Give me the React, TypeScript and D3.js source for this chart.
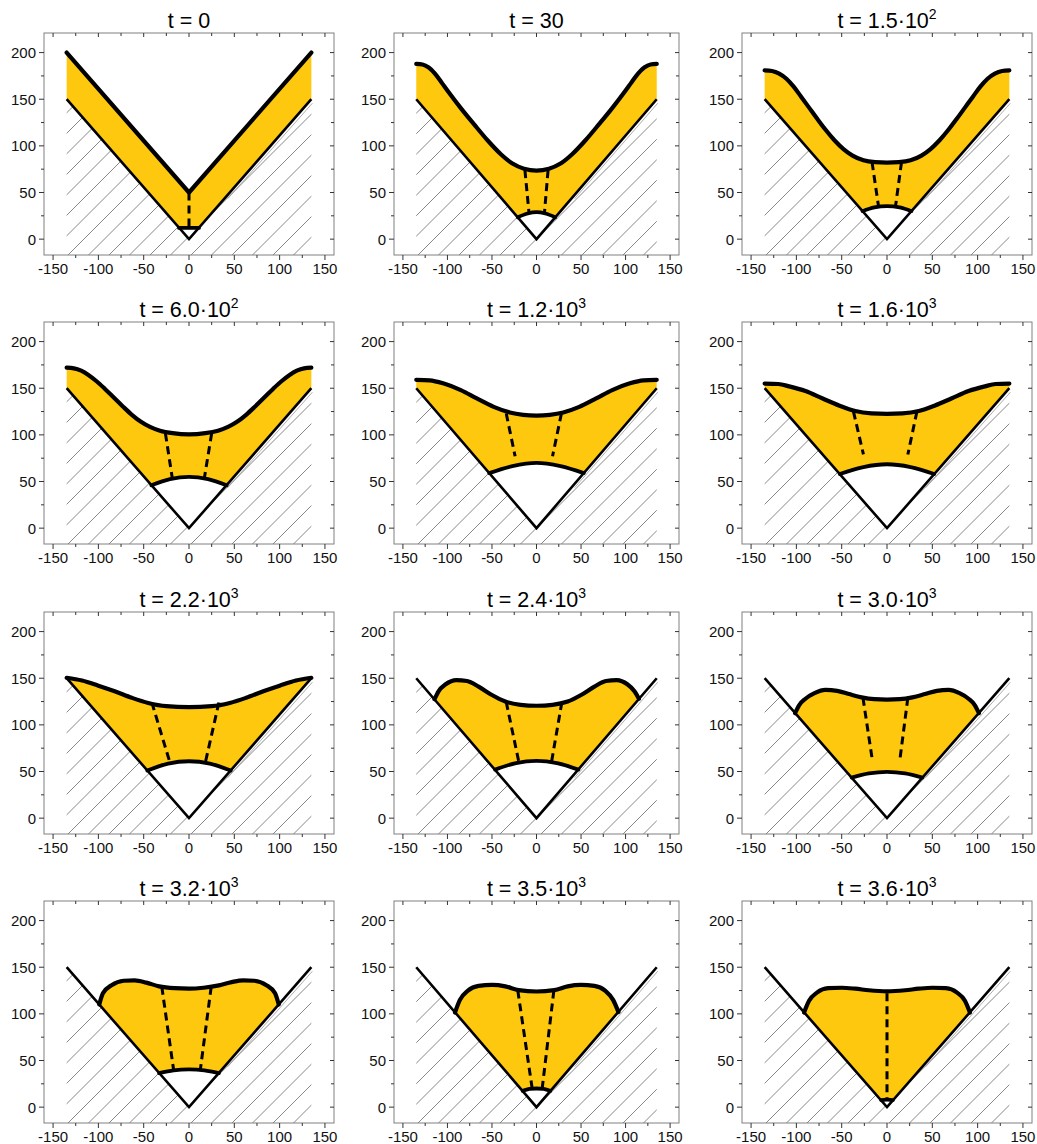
import React from "react";
import * as d3 from "d3";

type Pt = [number, number];

// axis ticks
const X_TICKS = [-150, -100, -50, 0, 50, 100, 150];
const X_MINOR = [-125, -75, -25, 25, 75, 125];
const Y_TICKS = [0, 50, 100, 150, 200];
const Y_MINOR = [25, 75, 125, 175];

// panel titles: t = mantissa·10^exponent
const TITLE_MANTISSA = ["0", "30", "1.5", "6.0", "1.2", "1.6", "2.2", "2.4", "3.0", "3.2", "3.5", "3.6"];
const TITLE_EXPONENT = ["", "", "2", "2", "3", "3", "3", "3", "3", "3", "3", "3"];

// the V-shaped wall
const WALL: Pt[] = [[-135, 150], [0, 0], [135, 150]];

// free (outer) surface of the layer
const OUTER_0: Pt[] = [[-135, 200], [0, 50], [135, 200]];
const OUTER_1: Pt[] = [[-135, 188], [-128, 187.3], [-121, 184], [-114, 177.5], [-107, 168.5], [-99, 158], [-85, 140.5], [-70, 123], [-55, 106], [-40, 91], [-27, 81], [-14, 75.5], [0, 73.5], [14, 75.5], [27, 81], [40, 91], [55, 106], [70, 123], [85, 140.5], [99, 158], [107, 168.5], [114, 177.5], [121, 184], [128, 187.3], [135, 188]];
const OUTER_2: Pt[] = [[-135, 181], [-127, 180.3], [-119, 177.5], [-111, 172], [-103, 163.5], [-95, 153], [-86, 141], [-77, 129], [-68, 117.5], [-58, 106], [-48, 96.5], [-38, 89.5], [-26, 84.5], [-13, 82.5], [0, 82], [13, 82.5], [26, 84.5], [38, 89.5], [48, 96.5], [58, 106], [68, 117.5], [77, 129], [86, 141], [95, 153], [103, 163.5], [111, 172], [119, 177.5], [127, 180.3], [135, 181]];
const OUTER_3: Pt[] = [[-135, 172], [-127, 171.3], [-119, 168.8], [-111, 164.3], [-102, 157.5], [-93, 149.5], [-83, 140], [-73, 130.5], [-63, 121.5], [-53, 114], [-43, 108.5], [-32, 104.5], [-18, 101.8], [0, 100.5], [18, 101.8], [32, 104.5], [43, 108.5], [53, 114], [63, 121.5], [73, 130.5], [83, 140], [93, 149.5], [102, 157.5], [111, 164.3], [119, 168.8], [127, 171.3], [135, 172]];
const OUTER_4: Pt[] = [[-135, 159], [-120, 158.5], [-104, 155], [-85, 148], [-67, 139], [-48, 130], [-30, 124], [-15, 121.5], [0, 120.7], [15, 121.5], [30, 124], [48, 130], [67, 139], [85, 148], [104, 155], [120, 158.5], [135, 159]];
const OUTER_5: Pt[] = [[-135, 155], [-120, 154.5], [-108, 152], [-90, 147], [-71, 139], [-53, 131.5], [-35, 125.5], [-17, 123], [0, 122.5], [17, 123], [35, 125.5], [53, 131.5], [71, 139], [90, 147], [108, 152], [120, 154.5], [135, 155]];
const OUTER_6: Pt[] = [[-135, 150.5], [-118, 147.5], [-100, 142], [-82, 136], [-63, 129], [-45, 123.5], [-25, 120], [0, 119], [25, 120], [45, 123.5], [63, 129], [82, 136], [100, 142], [118, 147.5], [135, 150.5]];
const OUTER_7: Pt[] = [[-114.5, 127.5], [-110, 136], [-102, 143.5], [-90, 148], [-78, 147], [-65, 141], [-50, 132], [-35, 125], [-18, 121.5], [0, 120.5], [18, 121.5], [35, 125], [50, 132], [65, 141], [78, 147], [90, 148], [102, 143.5], [110, 136], [115, 128]];
const OUTER_8: Pt[] = [[-101.5, 112.5], [-97, 121], [-90, 128], [-80, 134], [-68, 137.5], [-55, 136.5], [-42, 133], [-28, 129.5], [-14, 127.5], [0, 127], [14, 127.5], [28, 129.5], [42, 133], [55, 136.5], [68, 137.5], [80, 134], [90, 128], [97, 121], [101.5, 112.5]];
const OUTER_9: Pt[] = [[-99, 110], [-95, 122], [-85, 131], [-72, 135.5], [-60, 136], [-47, 133.5], [-33, 129.5], [-16, 127.5], [0, 127], [16, 128], [33, 130.5], [47, 134], [60, 136], [72, 135.5], [85, 131], [95, 122], [99, 110]];
const OUTER_10: Pt[] = [[-91.5, 101.5], [-86, 115], [-77, 125], [-65, 130], [-50, 131], [-35, 129.5], [-20, 125.5], [0, 124], [20, 125.5], [35, 129.5], [50, 131], [65, 130], [77, 125], [86, 115], [92, 102]];
const OUTER_11: Pt[] = [[-91.5, 101.5], [-86, 114], [-77, 123], [-65, 127.5], [-50, 128], [-35, 127], [-20, 125.3], [0, 124.2], [20, 125.3], [35, 127], [50, 128], [65, 127.5], [77, 123], [86, 114], [91.5, 101.5]];

// inner arc (bottom of the layer)
const INNER_0: Pt[] = [[-11, 12], [0, 12], [11, 12]];
const INNER_1: Pt[] = [[-21, 23.5], [-10, 27.5], [0, 29], [10, 27.5], [21, 23.5]];
const INNER_2: Pt[] = [[-27, 30], [-14, 34], [0, 35.5], [14, 34], [27, 30]];
const INNER_3: Pt[] = [[-41.5, 46], [-21, 52.5], [0, 55], [21, 52.5], [41.5, 46]];
const INNER_4: Pt[] = [[-53, 59], [-27, 66.5], [0, 70], [27, 66.5], [53, 59]];
const INNER_5: Pt[] = [[-52, 58], [-26, 65.5], [0, 68.5], [26, 65.5], [52, 58]];
const INNER_6: Pt[] = [[-46, 51], [-23, 58.5], [0, 61], [23, 58.5], [46, 51]];
const INNER_7: Pt[] = [[-46.5, 52], [-23, 59], [0, 61.3], [23, 59], [47, 52]];
const INNER_8: Pt[] = [[-39, 43.5], [-20, 48], [0, 49.7], [20, 48], [39, 43.5]];
const INNER_9: Pt[] = [[-33, 36.5], [-17, 39.5], [0, 40.5], [17, 39.5], [33, 36.5]];
const INNER_10: Pt[] = [[-15.5, 17.5], [-8, 19.5], [0, 20], [8, 19.5], [15.5, 17.5]];
const INNER_11: Pt[] = [[-6.5, 7.5], [0, 8], [6.5, 7.5]];

// dashed marker lines (top point, bottom point)
const DASH_0: Pt[][] = [[[0, 50], [0, 12]]];
const DASH_1: Pt[][] = [[[-13, 74], [-8.5, 29]], [[13, 74], [9, 29]]];
const DASH_2: Pt[][] = [[[-16.5, 82.5], [-9.5, 36]], [[16, 82.5], [9.5, 36]]];
const DASH_3: Pt[][] = [[[-26, 101.5], [-18.5, 54]], [[25, 101.5], [17, 54]]];
const DASH_4: Pt[][] = [[[-34, 123], [-24, 77]], [[28, 123], [18, 77]]];
const DASH_5: Pt[][] = [[[-37, 125], [-26, 79]], [[33, 125], [23, 79]]];
const DASH_6: Pt[][] = [[[-41, 124], [-21, 59.5]], [[33, 124], [18, 59.5]]];
const DASH_7: Pt[][] = [[[-34, 124.5], [-20, 61]], [[28.5, 124.5], [17, 61]]];
const DASH_8: Pt[][] = [[[-26.5, 129], [-16, 61]], [[23, 129], [14, 61]]];
const DASH_9: Pt[][] = [[[-30, 129], [-17, 40]], [[24.5, 129], [12.5, 40]]];
const DASH_10: Pt[][] = [[[-21, 125], [-5, 21]], [[19.5, 125], [6.5, 21]]];
const DASH_11: Pt[][] = [[[0, 122], [0, 8]]];

const OUTERS = [OUTER_0, OUTER_1, OUTER_2, OUTER_3, OUTER_4, OUTER_5, OUTER_6, OUTER_7, OUTER_8, OUTER_9, OUTER_10, OUTER_11];
const INNERS = [INNER_0, INNER_1, INNER_2, INNER_3, INNER_4, INNER_5, INNER_6, INNER_7, INNER_8, INNER_9, INNER_10, INNER_11];
const DASHES = [DASH_0, DASH_1, DASH_2, DASH_3, DASH_4, DASH_5, DASH_6, DASH_7, DASH_8, DASH_9, DASH_10, DASH_11];

const WIDTH = 1037;
const HEIGHT = 1144;
const COL_X = [44, 394, 742];
const COL_W = [290, 285, 290];
const ROW_Y = [33, 322, 612, 901];
const BOX_H = 222;
const X_DOMAIN: [number, number] = [-160, 160];
const Y_DOMAIN: [number, number] = [-17, 221];

const FILL = "#FEC80E";
const FONT = "'Liberation Sans', Arial, sans-serif";

const Panel: React.FC<{ idx: number; w: number; h: number }> = ({ idx, w, h }) => {
  const x = d3.scaleLinear().domain(X_DOMAIN).range([0, w]);
  const y = d3.scaleLinear().domain(Y_DOMAIN).range([h, 0]);

  const straight = d3.line<Pt>().x((d) => x(d[0])).y((d) => y(d[1]));
  const arc = d3
    .line<Pt>()
    .x((d) => x(d[0]))
    .y((d) => y(d[1]))
    .curve(d3.curveCatmullRom.alpha(0.5));
  // initial state is a sharp V, later surfaces are smooth
  const outerLine =
    idx === 0
      ? straight
      : d3
          .line<Pt>()
          .x((d) => x(d[0]))
          .y((d) => y(d[1]))
          .curve(d3.curveMonotoneX);

  const outer = OUTERS[idx];
  const inner = INNERS[idx];
  const first = outer[0];
  const last = outer[outer.length - 1];

  let fillD = outerLine(outer) as string;
  if (last[0] >= 135) fillD += `L${x(135)},${y(150)}`;
  fillD += (arc(inner.slice().reverse()) as string).replace(/^M/, "L");
  if (first[0] <= -135) fillD += `L${x(-135)},${y(150)}`;
  fillD += "Z";

  // hatched solid under the wall
  const clipId = `hatch-clip-${idx}`;
  const clipPts = [
    [x(-135), y(150)],
    [x(0), y(0)],
    [x(135), y(150)],
    [x(135), h],
    [x(-135), h],
  ]
    .map((p) => p.join(","))
    .join(" ");
  const step = 20.5;
  const hatch = d3.range(0, w + h + step, step);

  const title = (
    <text x={w / 2} y={-5} textAnchor="middle" fontFamily={FONT} fontSize={21.5} fill="#000">
      {`t = ${TITLE_MANTISSA[idx]}`}
      {TITLE_EXPONENT[idx] ? "\u00B710" : ""}
      {TITLE_EXPONENT[idx] ? (
        <tspan fontSize={14} dy={-9}>
          {TITLE_EXPONENT[idx]}
        </tspan>
      ) : null}
    </text>
  );

  return (
    <g>
      <defs>
        <clipPath id={clipId}>
          <polygon points={clipPts} />
        </clipPath>
      </defs>
      <g clipPath={`url(#${clipId})`}>
        {hatch.map((c) => (
          <line key={c} x1={0} y1={c} x2={w} y2={c - w} stroke="#555" strokeWidth={0.7} />
        ))}
      </g>
      <line
        x1={x(40) + 2.5}
        y1={y(40 * 150 / 135) + 1}
        x2={x(135) + 1}
        y2={y(150) + 4}
        stroke="#999"
        strokeWidth={0.8}
      />

      <path d={fillD} fill={FILL} stroke="none" />
      <path d={straight(WALL) as string} fill="none" stroke="#000" strokeWidth={2.6} strokeLinejoin="miter" />
      <path d={arc(inner) as string} fill="none" stroke="#000" strokeWidth={3.8} strokeLinecap="round" />
      {DASHES[idx].map((seg, k) => (
        <path key={k} d={straight(seg) as string} fill="none" stroke="#000" strokeWidth={3} strokeDasharray="8,5" />
      ))}
      <path d={outerLine(outer) as string} fill="none" stroke="#000" strokeWidth={4.2} strokeLinecap="round" strokeLinejoin="round" />

      <rect x={0} y={0} width={w} height={h} fill="none" stroke="#808080" strokeWidth={1} />

      {X_TICKS.map((v) => (
        <g key={`xt${v}`}>
          <line x1={x(v)} x2={x(v)} y1={h} y2={h + 5} stroke="#333" />
          <line x1={x(v)} x2={x(v)} y1={0} y2={4} stroke="#333" />
          <text x={x(v)} y={h + 19} textAnchor="middle" fontFamily={FONT} fontSize={15} fill="#111">
            {String(v)}
          </text>
        </g>
      ))}
      {X_MINOR.map((v) => (
        <g key={`xm${v}`}>
          <line x1={x(v)} x2={x(v)} y1={h} y2={h + 3} stroke="#333" />
          <line x1={x(v)} x2={x(v)} y1={0} y2={3} stroke="#333" />
        </g>
      ))}
      {Y_TICKS.map((v) => (
        <g key={`yt${v}`}>
          <line x1={-5} x2={0} y1={y(v)} y2={y(v)} stroke="#333" />
          <line x1={w - 4} x2={w} y1={y(v)} y2={y(v)} stroke="#333" />
          <text x={-8} y={y(v)} dy="0.36em" textAnchor="end" fontFamily={FONT} fontSize={15} fill="#111">
            {String(v)}
          </text>
        </g>
      ))}
      {Y_MINOR.map((v) => (
        <g key={`ym${v}`}>
          <line x1={-3} x2={0} y1={y(v)} y2={y(v)} stroke="#333" />
          <line x1={w - 3} x2={w} y1={y(v)} y2={y(v)} stroke="#333" />
        </g>
      ))}
      {title}
    </g>
  );
};

const App: React.FC = () => {
  return (
    <div style={{ position: "absolute", left: 0, top: 0, background: "#fff" }}>
      <svg width={WIDTH} height={HEIGHT} viewBox={`0 0 ${WIDTH} ${HEIGHT}`} style={{ display: "block" }}>
        <rect width={WIDTH} height={HEIGHT} fill="#fff" />
        {TITLE_MANTISSA.map((_, i) => {
          const col = i % 3;
          const row = Math.floor(i / 3);
          return (
            <g key={i} transform={`translate(${COL_X[col]},${ROW_Y[row]})`}>
              <Panel idx={i} w={COL_W[col]} h={BOX_H} />
            </g>
          );
        })}
      </svg>
    </div>
  );
};

export default App;
